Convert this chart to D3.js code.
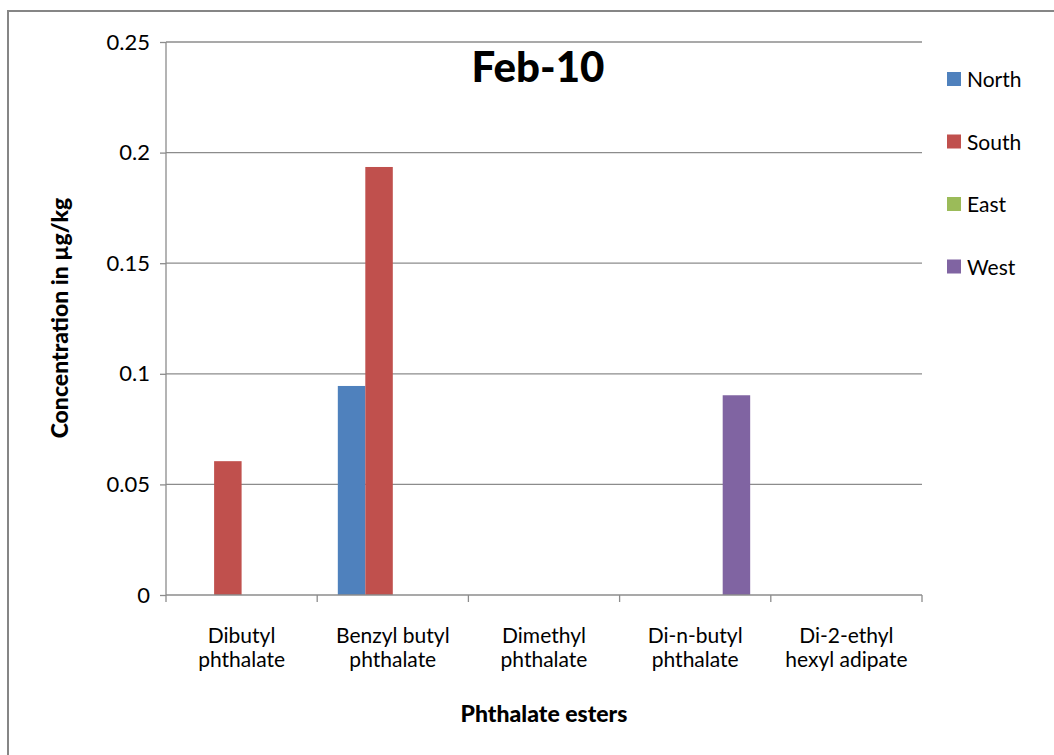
<!DOCTYPE html>
<html>
<head>
<meta charset="utf-8">
<script src="https://cdn.jsdelivr.net/npm/d3@7"></script>
<style>
  html, body { margin: 0; padding: 0; background: #fff; }
  svg { display: block; }
  text { font-family: Lato, "Open Sans", "Liberation Sans", sans-serif; fill: #000; }
</style>
</head>
<body>
<svg id="chart" width="1054" height="755"></svg>
<script>
// Phthalate ester concentrations by sampling site, February 2010
const categories = [["Dibutyl", "phthalate"], ["Benzyl butyl", "phthalate"], ["Dimethyl", "phthalate"], ["Di-n-butyl", "phthalate"], ["Di-2-ethyl", "hexyl adipate"]];
const seriesNames = ["North", "South", "East", "West"];
const seriesColors = ["#4f81bd", "#c0504d", "#9bbb59", "#8064a2"];
const north = [0, 0.0945, 0, 0, 0];
const south = [0.0605, 0.1935, 0, 0, 0];
const east  = [0, 0, 0, 0, 0];
const west  = [0, 0, 0, 0.0903, 0];
const yTicks = [0, 0.05, 0.1, 0.15, 0.2, 0.25];
const yTickLabels = ["0", "0.05", "0.1", "0.15", "0.2", "0.25"];

const seriesValues = [north, south, east, west];
const svg = d3.select("#chart");

// Outer chart frame (extends past the right and bottom edges)
svg.append("rect")
  .attr("x", 8).attr("y", 11).attr("width", 1060).attr("height", 760)
  .attr("fill", "none").attr("stroke", "#868686").attr("stroke-width", 2);

const plot = { left: 166, right: 922, top: 42, bottom: 595 };

const x0 = d3.scaleBand()
  .domain(d3.range(categories.length))
  .range([plot.left, plot.right])
  .paddingInner(0).paddingOuter(0);

// 150% gap width: bars occupy 4/5.5 of each category
const bw = x0.bandwidth() / 5.5;
const x1 = d3.scaleBand()
  .domain(d3.range(seriesNames.length))
  .range([bw * 0.75, bw * 0.75 + bw * seriesNames.length]);

const y = d3.scaleLinear().domain([0, 0.25]).range([plot.bottom, plot.top]);

// Horizontal gridlines
svg.append("g").selectAll("line")
  .data(yTicks.slice(1))
  .join("line")
  .attr("x1", plot.left).attr("x2", plot.right)
  .attr("y1", d => y(d)).attr("y2", d => y(d))
  .attr("stroke", "#8c8c8c").attr("stroke-width", 1.3);

// Y axis
const yAxis = svg.append("g")
  .attr("transform", `translate(${plot.left},0)`)
  .call(d3.axisLeft(y).tickValues(yTicks).tickSize(6).tickPadding(10)
    .tickFormat((d, i) => yTickLabels[i]));
yAxis.select(".domain").attr("stroke", "#8c8c8c").attr("stroke-width", 1.3)
  .attr("d", `M0,${plot.top}V${plot.bottom}`);
yAxis.selectAll(".tick line").attr("stroke", "#8c8c8c").attr("stroke-width", 1.3);
yAxis.selectAll(".tick text").attr("font-size", 22).attr("font-family", "Lato, 'Open Sans', sans-serif").attr("fill", "#000");

// Bars
const groups = svg.append("g").selectAll("g")
  .data(categories.map((c, i) => i))
  .join("g")
  .attr("transform", i => `translate(${x0(i)},0)`);

groups.selectAll("rect")
  .data(i => seriesValues.map((vals, s) => ({ s, v: vals[i] })))
  .join("rect")
  .attr("x", d => x1(d.s))
  .attr("width", x1.bandwidth())
  .attr("y", d => y(d.v))
  .attr("height", d => y(0) - y(d.v))
  .attr("fill", d => seriesColors[d.s]);

// X axis
const xAxis = svg.append("g")
  .attr("transform", `translate(0,${plot.bottom})`);
xAxis.append("line")
  .attr("x1", plot.left).attr("x2", plot.right)
  .attr("stroke", "#8c8c8c").attr("stroke-width", 1.3);
const xTickPos = d3.range(categories.length + 1).map(i => plot.left + i * x0.bandwidth());
xAxis.selectAll("line.tick")
  .data(xTickPos)
  .join("line").attr("class", "tick")
  .attr("x1", d => d).attr("x2", d => d)
  .attr("y1", 0).attr("y2", 7)
  .attr("stroke", "#8c8c8c").attr("stroke-width", 1.3);

// Two-line category labels, one text element per line
const catLines = [];
categories.forEach((lines, i) => lines.forEach((t, j) => catLines.push({ i, j, t })));
svg.append("g").selectAll("text")
  .data(catLines)
  .join("text")
  .attr("x", d => x0(d.i) + x0.bandwidth() / 2)
  .attr("y", d => 643 + d.j * 24)
  .attr("text-anchor", "middle")
  .attr("font-size", 21)
  .text(d => d.t);

// Title
svg.append("text")
  .attr("x", 538).attr("y", 82)
  .attr("text-anchor", "middle")
  .attr("font-size", 42).attr("font-weight", 900)
  .text("Feb-10");

// Axis titles
svg.append("text")
  .attr("transform", "translate(68,318) rotate(-90)")
  .attr("text-anchor", "middle")
  .attr("font-size", 23).attr("font-weight", 900)
  .text("Concentration in µg/kg");

svg.append("text")
  .attr("x", 544).attr("y", 722)
  .attr("text-anchor", "middle")
  .attr("font-size", 23).attr("font-weight", 900)
  .text("Phthalate esters");

// Legend
const legend = svg.append("g").selectAll("g")
  .data(seriesNames)
  .join("g")
  .attr("transform", (d, i) => `translate(947,${79 + i * 62.5})`);
legend.append("rect")
  .attr("x", 0).attr("y", -7).attr("width", 14).attr("height", 14)
  .attr("fill", (d, i) => seriesColors[i]);
legend.append("text")
  .attr("x", 20).attr("y", 8)
  .attr("font-size", 21)
  .text(d => d);
</script>
</body>
</html>
